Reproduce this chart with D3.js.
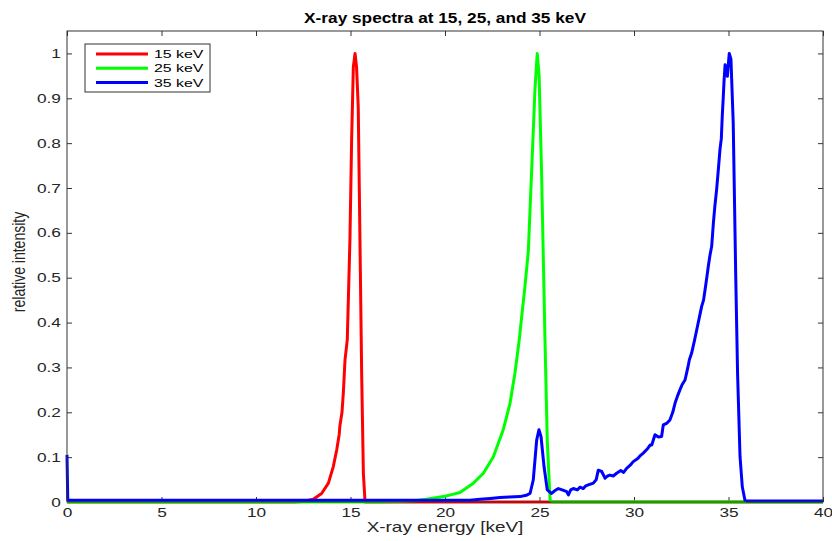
<!DOCTYPE html>
<html>
<head>
<meta charset="utf-8">
<script src="https://cdn.jsdelivr.net/npm/d3@7"></script>
<style>
  html, body { margin: 0; padding: 0; background: #fff; }
  svg { display: block; }
</style>
</head>
<body>
<div id="chart"></div>
<script>
// Axis ticks
const xTicks = [0, 5, 10, 15, 20, 25, 30, 35, 40];
const yTicks = [0, 0.1, 0.2, 0.3, 0.4, 0.5, 0.6, 0.7, 0.8, 0.9, 1];

// 15 keV spectrum (energy, relative intensity)
const redX = [0, 12.0, 12.5, 13.03, 13.47, 13.83, 14.09, 14.27, 14.4, 14.44, 14.55, 14.62, 14.71, 14.83, 14.97, 15.06, 15.15, 15.24, 15.32, 15.41, 15.5, 15.59, 15.68, 15.77, 16.0, 40];
const redY = [0, 0, 0.001, 0.006, 0.019, 0.042, 0.079, 0.116, 0.15, 0.17, 0.2, 0.243, 0.317, 0.362, 0.585, 0.808, 0.97, 1.0, 0.97, 0.88, 0.585, 0.288, 0.065, 0.0, 0, 0];

// 25 keV spectrum
const greenX = [0, 16.5, 17.5, 18.4, 19.0, 19.6, 20.0, 20.4, 20.79, 21.5, 22.03, 22.56, 23.08, 23.44, 23.7, 23.93, 24.06, 24.23, 24.41, 24.58, 24.76, 24.88, 24.98, 25.11, 25.29, 25.41, 25.56, 25.7, 40];
const greenY = [0, 0, 0.001, 0.003, 0.006, 0.01, 0.013, 0.017, 0.021, 0.042, 0.064, 0.101, 0.161, 0.22, 0.287, 0.362, 0.414, 0.48, 0.56, 0.734, 0.92, 1.0, 0.95, 0.734, 0.362, 0.138, 0.004, 0, 0];

// 35 keV spectrum
const blueX = [0, 0.04, 10, 20, 21.32, 21.85, 22.4, 22.91, 23.4, 23.97, 24.3, 24.5, 24.67, 24.85, 24.97, 25.08, 25.24, 25.41, 25.64, 25.8, 26.0, 26.2, 26.44, 26.53, 26.65, 26.79, 27.0, 27.15, 27.32, 27.45, 27.58, 27.85, 28.0, 28.11, 28.29, 28.47, 28.6, 28.73, 28.9, 29.08, 29.3, 29.45, 29.61, 29.8, 29.96, 30.2, 30.35, 30.49, 30.7, 30.85, 30.94, 31.11, 31.3, 31.46, 31.55, 31.75, 31.9, 32.05, 32.17, 32.3, 32.43, 32.55, 32.7, 32.85, 32.93, 33.05, 33.2, 33.32, 33.45, 33.58, 33.68, 33.76, 33.85, 33.93, 34.02, 34.11, 34.2, 34.28, 34.37, 34.46, 34.55, 34.62, 34.67, 34.72, 34.76, 34.82, 34.87, 34.94, 35.04, 35.13, 35.25, 35.38, 35.48, 35.61, 35.73, 35.87, 36.0, 38, 40];
const blueY = [0.105, 0.004, 0.004, 0.004, 0.004, 0.006, 0.008, 0.01, 0.011, 0.012, 0.015, 0.019, 0.049, 0.138, 0.161, 0.146, 0.079, 0.027, 0.019, 0.025, 0.03, 0.027, 0.023, 0.016, 0.027, 0.03, 0.027, 0.033, 0.03, 0.036, 0.038, 0.042, 0.05, 0.071, 0.068, 0.053, 0.058, 0.06, 0.058, 0.064, 0.07, 0.066, 0.075, 0.082, 0.09, 0.097, 0.104, 0.109, 0.118, 0.127, 0.127, 0.15, 0.145, 0.146, 0.172, 0.176, 0.183, 0.2, 0.22, 0.236, 0.25, 0.262, 0.272, 0.3, 0.317, 0.332, 0.36, 0.384, 0.41, 0.436, 0.45, 0.473, 0.5, 0.525, 0.55, 0.57, 0.622, 0.66, 0.696, 0.74, 0.786, 0.81, 0.86, 0.9, 0.935, 0.975, 0.964, 0.949, 1.0, 0.987, 0.845, 0.51, 0.287, 0.101, 0.034, 0.004, 0.002, 0.002, 0.002];

const seriesNames = ["15 keV", "25 keV", "35 keV"];
const seriesColors = ["#ff0000", "#00ff00", "#0000ff"];

const width = 832;
const height = 541;
const margin = { top: 31, right: 9, bottom: 39, left: 67 };
const innerW = width - margin.left - margin.right;
const innerH = height - margin.top - margin.bottom;

// the figure looks stretched sideways, so text gets a horizontal scale
const stretch = 1.38;

const x = d3.scaleLinear().domain([0, 40]).range([0, innerW]);
const y = d3.scaleLinear().domain([0, 1.05]).range([innerH, 0]);

const svg = d3.select("#chart")
  .append("svg")
  .attr("width", width)
  .attr("height", height)
  .style("font-family", "'Liberation Sans', Arial, Helvetica, sans-serif");

const g = svg.append("g").attr("transform", `translate(${margin.left},${margin.top})`);

const axisColor = "#333";

// Bottom axis (ticks pointing inward)
const xAxis = g.append("g")
  .attr("transform", `translate(0,${innerH})`)
  .call(d3.axisBottom(x).tickValues(xTicks).tickSizeInner(-5).tickSizeOuter(0).tickPadding(6).tickFormat(d3.format("d")));
// Top axis ticks
const xAxisTop = g.append("g")
  .call(d3.axisTop(x).tickValues(xTicks).tickSizeInner(-5).tickSizeOuter(0).tickFormat(""));
// Left axis
const yAxis = g.append("g")
  .call(d3.axisLeft(y).tickValues(yTicks).tickSizeInner(-5).tickSizeOuter(0).tickPadding(4.4)
    .tickFormat(d => d === 0 ? "0" : d === 1 ? "1" : d3.format(".1f")(d)));
// Right axis ticks
const yAxisRight = g.append("g")
  .attr("transform", `translate(${innerW},0)`)
  .call(d3.axisRight(y).tickValues(yTicks).tickSizeInner(-5).tickSizeOuter(0).tickFormat(""));

[xAxis, xAxisTop, yAxis, yAxisRight].forEach(a => {
  a.select(".domain").remove();
  a.selectAll("line").attr("stroke", axisColor);
  a.selectAll("text")
    .attr("fill", "#262626")
    .attr("transform", `scale(${stretch},1)`)
    .style("font-size", "12.5px");
});

// Curves
const line = d3.line().x(d => x(d[0])).y(d => y(d[1]));
const series = [
  d3.zip(redX, redY),
  d3.zip(greenX, greenY),
  d3.zip(blueX, blueY)
];

g.selectAll(".curve")
  .data(series)
  .enter()
  .append("path")
  .attr("class", "curve")
  .attr("d", line)
  .attr("fill", "none")
  .attr("stroke", (d, i) => seriesColors[i])
  .attr("stroke-width", 3)
  .attr("stroke-linejoin", "round");

// Box
g.append("rect")
  .attr("x", 0).attr("y", 0)
  .attr("width", innerW).attr("height", innerH)
  .attr("fill", "none")
  .attr("stroke", axisColor)
  .attr("stroke-width", 1);

// Legend
const legend = g.append("g").attr("transform", `translate(${85 - margin.left},${44 - margin.top})`);
legend.append("rect")
  .attr("width", 125).attr("height", 48)
  .attr("fill", "#fff")
  .attr("stroke", axisColor)
  .attr("stroke-width", 1);
seriesNames.forEach((name, i) => {
  const ly = 10 + i * 14.2;
  legend.append("line")
    .attr("x1", 11).attr("x2", 63)
    .attr("y1", ly).attr("y2", ly)
    .attr("stroke", seriesColors[i])
    .attr("stroke-width", 3);
  legend.append("text")
    .attr("transform", `translate(69,${ly + 4.2}) scale(${stretch},1)`)
    .attr("fill", "#000")
    .style("font-size", "11.5px")
    .text(name);
});

// Title
svg.append("text")
  .attr("transform", `translate(${margin.left + innerW / 2},23) scale(1.15,1)`)
  .attr("text-anchor", "middle")
  .attr("fill", "#000")
  .style("font-size", "15px")
  .style("font-weight", "bold")
  .text("X-ray spectra at 15, 25, and 35 keV");

// X label
svg.append("text")
  .attr("transform", `translate(${margin.left + innerW / 2},532) scale(${stretch * 0.98},1)`)
  .attr("text-anchor", "middle")
  .attr("fill", "#262626")
  .style("font-size", "14px")
  .text("X-ray energy [keV]");

// Y label
svg.append("text")
  .attr("transform", `translate(25,262) scale(${stretch * 0.98},1) rotate(-90)`)
  .attr("text-anchor", "middle")
  .attr("fill", "#262626")
  .style("font-size", "14px")
  .text("relative intensity");
</script>
</body>
</html>
